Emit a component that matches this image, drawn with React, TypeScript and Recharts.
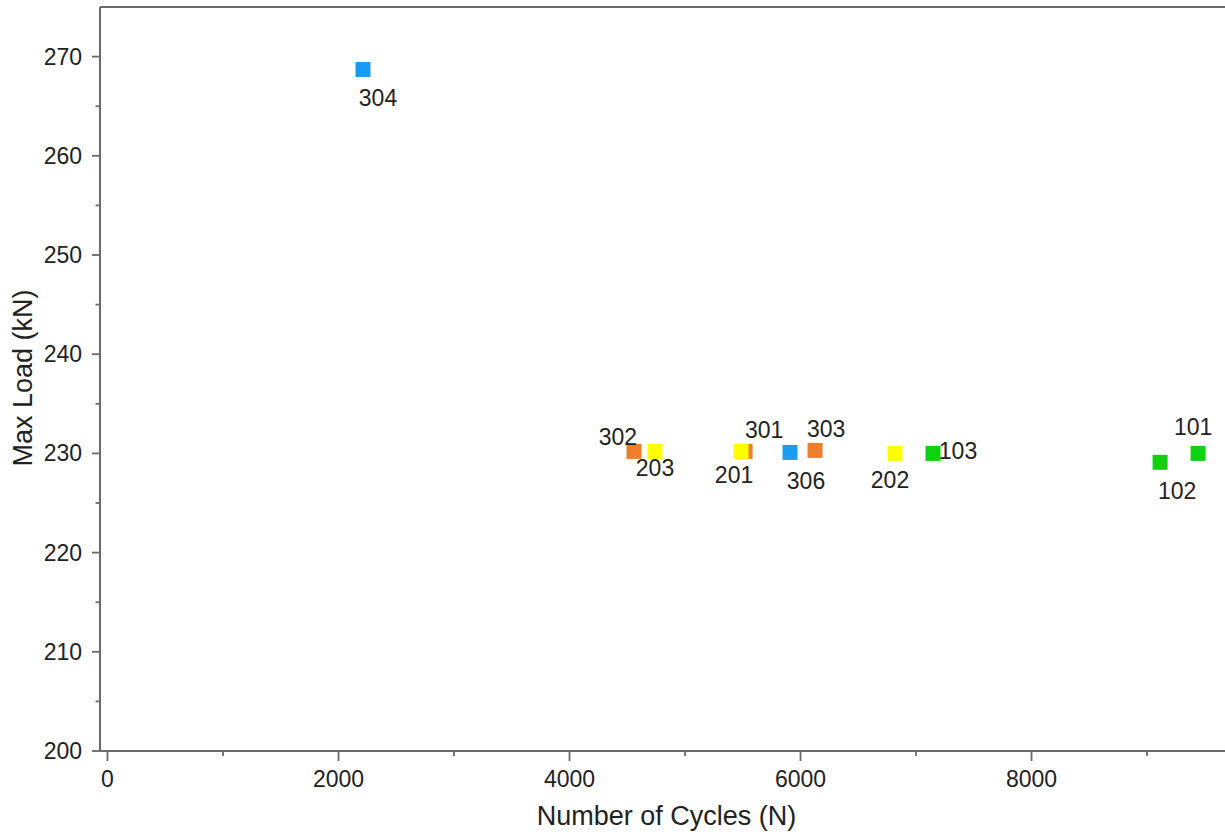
import React from 'react';
import { ScatterChart, Scatter, XAxis, YAxis, ReferenceLine, Label } from 'recharts';

// ---- data ----
const specimenIds = ['101', '102', '103', '201', '202', '203', '301', '302', '303', '304', '306'];
const cycles = [9442, 9113, 7147, 5485, 6818, 4740, 5520, 4558, 6126, 2212, 5909];
const maxLoads = [230.0, 229.1, 230.0, 230.2, 230.0, 230.2, 230.2, 230.2, 230.3, 268.7, 230.1];
const specimenGroup = ['green', 'green', 'green', 'yellow', 'yellow', 'yellow', 'orange', 'orange', 'orange', 'blue', 'blue'];

const xTicks = [0, 1000, 2000, 3000, 4000, 5000, 6000, 7000, 8000, 9000];
const xMajorTicks = [0, 2000, 4000, 6000, 8000];
const yTicks = [200, 205, 210, 215, 220, 225, 230, 235, 240, 245, 250, 255, 260, 265, 270];
const yMajorTicks = [200, 210, 220, 230, 240, 250, 260, 270];

// ---- styling (kept separate from data) ----
const groupColors: Record<string, string> = {
  orange: '#ee7d2c',
  blue: '#1a9cf2',
  yellow: '#ffff00',
  green: '#0fd10f',
};
const drawOrder = ['orange', 'blue', 'yellow', 'green'];
const labelOffsets: Record<string, [number, number]> = {
  '101': [-5, -26],
  '102': [17, 29],
  '103': [25, -2],
  '201': [-7, 24],
  '202': [-5, 27],
  '203': [0, 17],
  '301': [19, -21],
  '302': [-16, -14],
  '303': [11, -21],
  '304': [15, 29],
  '306': [16, 29],
};

const FONT = '"Liberation Sans", Arial, Helvetica, sans-serif';
const AXIS_COLOR = '#6a6a6a';
const TEXT_COLOR = '#222';
const TICK_SIZE = 6;
const TICK_MARGIN = 2;

const points = specimenIds.map((id, i) => ({
  id,
  x: cycles[i],
  y: maxLoads[i],
  group: specimenGroup[i],
}));

const XTick = (props: any) => {
  const { x, y, payload } = props;
  const axisY = y - TICK_SIZE - TICK_MARGIN;
  const major = xMajorTicks.includes(payload.value);
  return (
    <g>
      <line x1={x} x2={x} y1={axisY} y2={axisY + (major ? 10 : 5)} stroke={AXIS_COLOR} strokeWidth={1.8} />
      {major && (
        <text x={x} y={axisY + 36} textAnchor="middle" fontSize={23} fill={TEXT_COLOR} fontFamily={FONT}>
          {payload.value}
        </text>
      )}
    </g>
  );
};

const YTick = (props: any) => {
  const { x, y, payload } = props;
  const axisX = x + TICK_SIZE + TICK_MARGIN;
  const major = yMajorTicks.includes(payload.value);
  return (
    <g>
      <line x1={axisX} x2={axisX - (major ? 8 : 4.5)} y1={y} y2={y} stroke={AXIS_COLOR} strokeWidth={1.8} />
      {major && (
        <text x={axisX - 18} y={y + 8} textAnchor="end" fontSize={23} fill={TEXT_COLOR} fontFamily={FONT}>
          {payload.value}
        </text>
      )}
    </g>
  );
};

const SquareShape = (props: any) => {
  const { cx, cy, fill } = props;
  if (cx == null || cy == null) return null;
  return <rect x={cx - 7.5} y={cy - 7.5} width={15} height={15} fill={fill} />;
};

const LabelShape = (props: any) => {
  const { cx, cy, payload } = props;
  if (cx == null || cy == null) return null;
  const [dx, dy] = labelOffsets[payload.id] || [0, 0];
  return (
    <text x={cx + dx} y={cy + dy + 8} textAnchor="middle" fontSize={23} fill={TEXT_COLOR} fontFamily={FONT}>
      {payload.id}
    </text>
  );
};

export default function App() {
  return (
    <div style={{ position: 'absolute', left: 0, top: 0, width: 1225, height: 837, background: '#fff' }}>
      <ScatterChart width={1225} height={837} margin={{ top: 7, right: 0, left: 0, bottom: 0 }}>
        <XAxis
          type="number"
          dataKey="x"
          domain={[-65, 9675]}
          allowDataOverflow
          ticks={xTicks}
          interval={0}
          height={86}
          tickSize={TICK_SIZE}
          tickMargin={TICK_MARGIN}
          tickLine={false}
          axisLine={{ stroke: AXIS_COLOR, strokeWidth: 2 }}
          tick={<XTick />}
        >
          <Label
            content={(p: any) => {
              const vb = p.viewBox;
              return (
                <text
                  x={vb.x + vb.width / 2 + 4}
                  y={vb.y + 74}
                  textAnchor="middle"
                  fontSize={27}
                  fill={TEXT_COLOR}
                  fontFamily={FONT}
                >
                  Number of Cycles (N)
                </text>
              );
            }}
          />
        </XAxis>
        <YAxis
          type="number"
          dataKey="y"
          domain={[200, 275]}
          allowDataOverflow
          ticks={yTicks}
          interval={0}
          width={100}
          tickSize={TICK_SIZE}
          tickMargin={TICK_MARGIN}
          tickLine={false}
          axisLine={{ stroke: AXIS_COLOR, strokeWidth: 2 }}
          tick={<YTick />}
        >
          <Label
            content={(p: any) => {
              const vb = p.viewBox;
              const cx = vb.x + 32;
              const cy = vb.y + vb.height / 2 - 1;
              return (
                <text
                  x={cx}
                  y={cy}
                  transform={`rotate(-90, ${cx}, ${cy})`}
                  textAnchor="middle"
                  fontSize={27}
                  fill={TEXT_COLOR}
                  fontFamily={FONT}
                >
                  Max Load (kN)
                </text>
              );
            }}
          />
        </YAxis>
        <ReferenceLine y={275} stroke={AXIS_COLOR} strokeWidth={2} ifOverflow="visible" />
        {drawOrder.map((g) => (
          <Scatter
            key={g}
            data={points.filter((p) => p.group === g)}
            fill={groupColors[g]}
            shape={<SquareShape />}
            isAnimationActive={false}
          />
        ))}
        <Scatter data={points} fill="none" shape={<LabelShape />} isAnimationActive={false} />
      </ScatterChart>
    </div>
  );
}
